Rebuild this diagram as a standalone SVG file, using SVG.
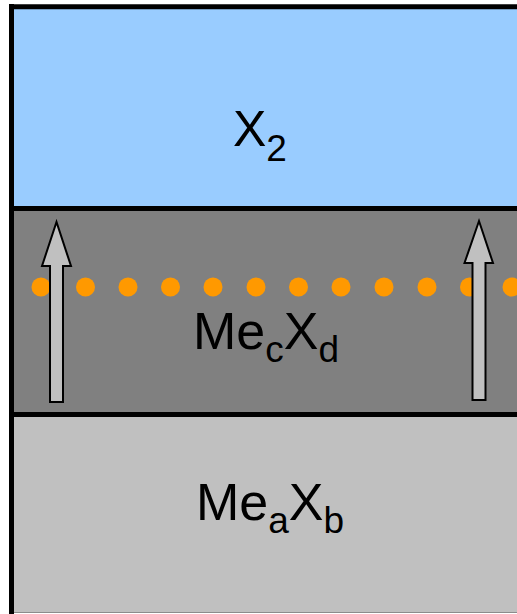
<svg xmlns="http://www.w3.org/2000/svg" width="517" height="614" viewBox="0 0 517 614">
  <style>
    .lbl { font-family: "Liberation Sans", Arial, sans-serif; font-size: 52px; fill: #000; }
    .sub { font-size: 37px; }
    .x2 { font-size: 50px; }
    .border { stroke: #000; stroke-width: 5; fill: none; }
    .dot { fill: #ff9900; }
    .arrow { fill: #c0c0c0; stroke: #000; stroke-width: 2; stroke-linejoin: miter; }
  </style>
  <rect x="0" y="0" width="517" height="614" fill="#fff"/>
  <g id="layer-x2">
    <rect x="11" y="6" width="520" height="202" fill="#99ccff"/>
    <text class="lbl x2" x="233" y="146">X<tspan class="sub" dy="14.5">2</tspan></text>
  </g>
  <g id="layer-mecxd">
    <rect x="11" y="208" width="520" height="206" fill="#808080"/>
    <g id="dots">
      <circle class="dot" cx="41" cy="287" r="9.5"/>
      <circle class="dot" cx="85.5" cy="287" r="9.5"/>
      <circle class="dot" cx="128" cy="287" r="9.5"/>
      <circle class="dot" cx="170.5" cy="287" r="9.5"/>
      <circle class="dot" cx="213" cy="287" r="9.5"/>
      <circle class="dot" cx="256" cy="287" r="9.5"/>
      <circle class="dot" cx="298.5" cy="287" r="9.5"/>
      <circle class="dot" cx="341" cy="287" r="9.5"/>
      <circle class="dot" cx="384" cy="287" r="9.5"/>
      <circle class="dot" cx="427" cy="287" r="9.5"/>
      <circle class="dot" cx="469.5" cy="287" r="9.5"/>
      <circle class="dot" cx="512" cy="287" r="9.5"/>
    </g>
    <text class="lbl" x="193" y="349">Me<tspan class="sub" dy="12.5">c</tspan><tspan dy="-12.5">X</tspan><tspan class="sub" dy="12.5">d</tspan></text>
  </g>
  <g id="layer-meaxb">
    <rect x="11" y="414" width="520" height="198.5" fill="#c0c0c0"/>
    <text class="lbl" x="196" y="520">Me<tspan class="sub" dy="12.5">a</tspan><tspan dy="-12.5">X</tspan><tspan class="sub" dy="12.5">b</tspan></text>
  </g>
  <g id="connectors">
    <polygon id="arrow-left" class="arrow" points="50,402 63,402 63,266 71,266 56.5,222 42,266 50,266"/>
    <polygon id="arrow-right" class="arrow" points="472.5,400 485.5,400 485.5,263 493,263 479,221 464.5,263 472.5,263"/>
  </g>
  <g id="borders">
    <line class="border" x1="11.5" y1="4" x2="11.5" y2="614"/>
    <line class="border" x1="9" y1="6.8" x2="517" y2="6.8"/>
    <line class="border" x1="9" y1="208.5" x2="517" y2="208.5"/>
    <line class="border" x1="9" y1="414.5" x2="517" y2="414.5"/>
    <line x1="14" y1="612.5" x2="517" y2="612.5" stroke="#8c8c8c" stroke-width="1"/>
  </g>
</svg>
